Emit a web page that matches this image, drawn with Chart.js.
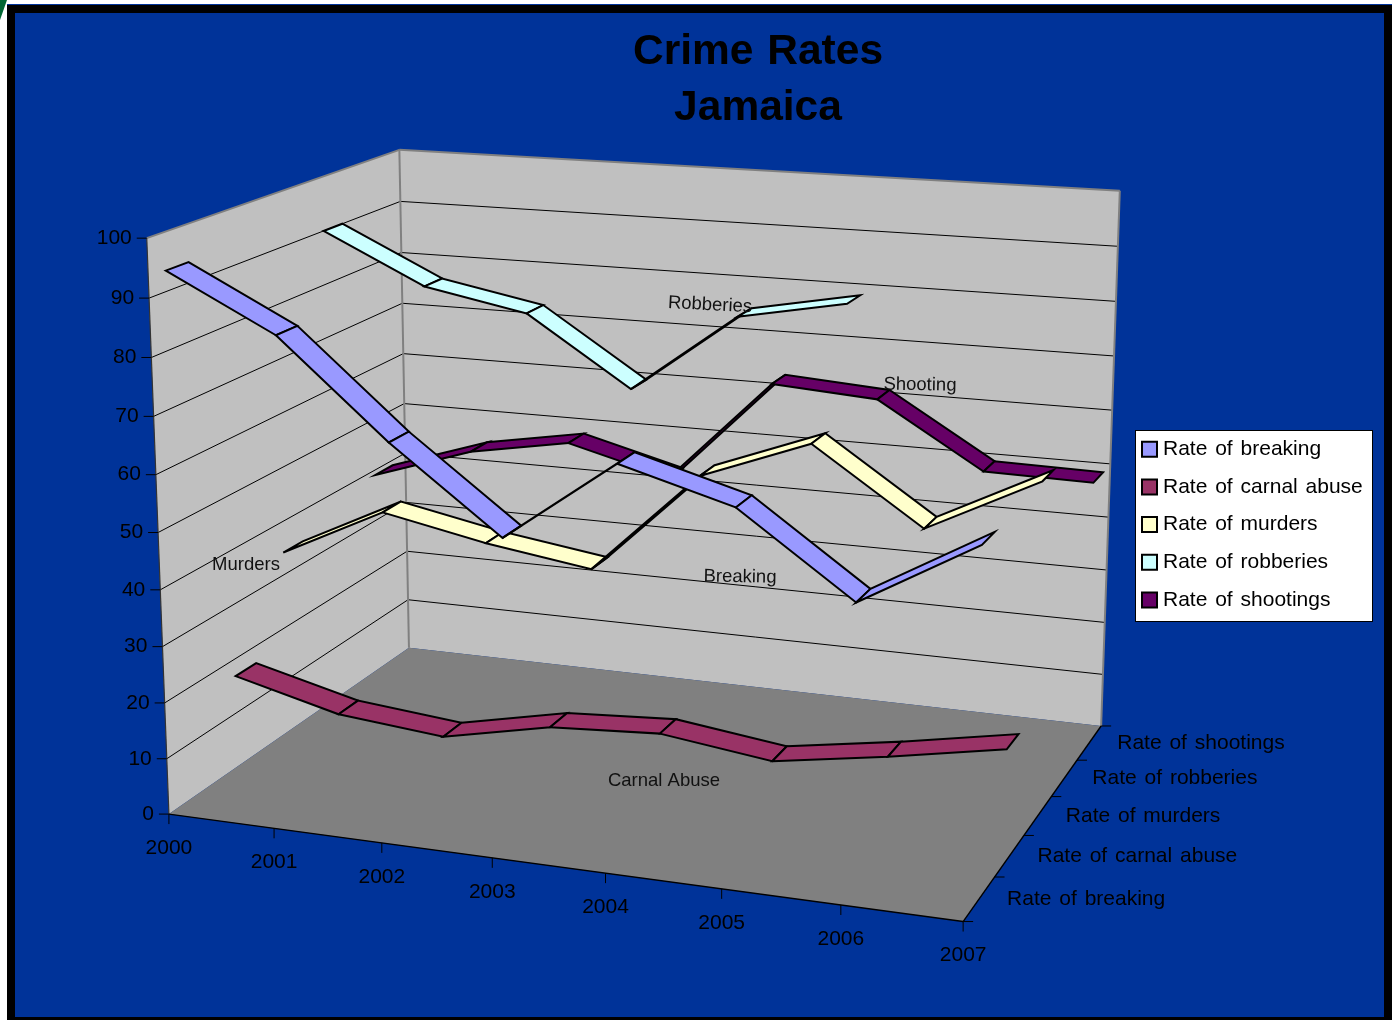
<!DOCTYPE html><html><head><meta charset="utf-8"><script src="https://cdn.jsdelivr.net/npm/chart.js@4/dist/chart.umd.js"></script></head><body style="margin:0;background:#fff"><canvas id="c" width="1394" height="1020" style="display:block"></canvas>
<script>
const years=['2000','2001','2002','2003','2004','2005','2006','2007'];
const valueTicks=[0,10,20,30,40,50,60,70,80,90,100];
const seriesNames=['Rate of breaking','Rate of carnal abuse','Rate of murders','Rate of robberies','Rate of shootings'];
const breaking=[93.5,84,67.5,53.2,67.4,62,48.4,59.7];
const carnalAbuse=[16.8,12,10.2,14.3,15.5,13,16.2,19.9];
const murders=[34.2,43.6,39.8,37,55.6,63,50,60];
const robberies=[90,81,77.4,65,79.6,83.3,null,null];
const shootings=[39,45.3,48.7,43.7,63.2,61.9,50.2,49.9];
const colors=['#9999FF','#993366','#FFFFCC','#CCFFFF','#660066'];
const seriesValues=[breaking,carnalAbuse,murders,robberies,shootings];
const notes=[['Robberies',710,305,3],['Shooting',920,385,1],['Breaking',740,577,1],['Murders',246,565,0],['Carnal Abuse',664,781,0]];

// Camera of the 3D box: (x, depth, value) in 0..1 to the page, fitted to its corners and axis ticks.
const calib=[[0,0,0,170,814],[1,0,0,962,922],[1,1,0,1100,726],[0,1,0,409,647],[0,0,1,147,238],[0,1,1,399,150],[1,1,1,1120,191],
[1,.2,0,995,876],[1,.4,0,1026,835],[1,.6,0,1052,797],[1,.8,0,1077,761],
[1/7,0,0,273,830],[2/7,0,0,382,844],[3/7,0,0,493,858],[4/7,0,0,605,872],[5/7,0,0,721,888],[6/7,0,0,840,905],[0,0,.5,158,532]];
function fitCamera(){const A=[],b=[];for(const [x,z,v,u,w] of calib){const U=u/1000,W=w/1000;
A.push([x,z,v,1,0,0,0,0,-U*x,-U*z,-U*v]);b.push(U);A.push([0,0,0,0,x,z,v,1,-W*x,-W*z,-W*v]);b.push(W);}
const n=11,N=[];for(let i=0;i<n;i++){N.push(new Array(n+1).fill(0));for(let j=0;j<n;j++)for(let k=0;k<A.length;k++)N[i][j]+=A[k][i]*A[k][j];for(let k=0;k<A.length;k++)N[i][n]+=A[k][i]*b[k];}
for(let i=0;i<n;i++){let p=i;for(let r=i;r<n;r++)if(Math.abs(N[r][i])>Math.abs(N[p][i]))p=r;[N[i],N[p]]=[N[p],N[i]];for(let r=0;r<n;r++)if(r!=i){const f=N[r][i]/N[i][i];for(let c=i;c<=n;c++)N[r][c]-=f*N[i][c];}}
return N.map((r,i)=>r[n]/r[i]);}
const P=fitCamera();
function proj(x,z,v){const d=P[8]*x+P[9]*z+P[10]*v+1;return [1000*(P[0]*x+P[1]*z+P[2]*v+P[3])/d,1000*(P[4]*x+P[5]*z+P[6]*v+P[7])/d];}
function poly(ctx,pts,fill,stroke,lw){ctx.beginPath();pts.forEach((p,i)=>i?ctx.lineTo(p[0],p[1]):ctx.moveTo(p[0],p[1]));ctx.closePath();if(fill){ctx.fillStyle=fill;ctx.fill();}if(stroke){ctx.strokeStyle=stroke;ctx.lineWidth=lw;ctx.stroke();}}
function seg(ctx,a,b,color,lw){ctx.beginPath();ctx.moveTo(a[0],a[1]);ctx.lineTo(b[0],b[1]);ctx.strokeStyle=color;ctx.lineWidth=lw;ctx.stroke();}
const FONT='"Liberation Sans", Arial, sans-serif';
const scene={id:'scene',
 afterLayout(chart){const t=chart.titleBlock;t.left=122;t.right=1394;t.top=24.5;t.bottom=137;
  const l=chart.legend;l.left=1146.5-l.options.labels.padding;l.right=1372;l.top=422;l.bottom=1020;},
 beforeDraw(chart){const c=chart.ctx;c.save();
  c.fillStyle='#fff';c.fillRect(0,0,1394,1020);
  c.fillStyle='#006633';c.beginPath();c.moveTo(0,0);c.lineTo(7,0);c.lineTo(0,20);c.fill();
  c.fillStyle='#003399';c.fillRect(7,4,1385,2);
  c.fillStyle='#000';c.fillRect(7,5,1385,1015);
  c.fillStyle='#003399';c.fillRect(15,13,1369,1004);
  poly(c,[proj(0,0,0),proj(0,1,0),proj(0,1,1),proj(0,0,1)],'#C0C0C0');
  poly(c,[proj(0,1,0),proj(1,1,0),proj(1,1,1),proj(0,1,1)],'#C0C0C0');
  poly(c,[proj(0,0,0),proj(1,0,0),proj(1,1,0),proj(0,1,0)],'#808080');
  c.lineCap='butt';
  for(const t of valueTicks){if(t===0||t===100)continue;const v=t/100;seg(c,proj(0,0,v),proj(0,1,v),'#000',1);seg(c,proj(0,1,v),proj(1,1,v),'#000',1);}
  seg(c,proj(0,0,1),proj(0,1,1),'#808080',2);seg(c,proj(0,1,1),proj(1,1,1),'#808080',2);seg(c,proj(1,1,1),proj(1,1,0),'#808080',2);seg(c,proj(0,1,1),proj(0,1,0),'#808080',2);
  seg(c,proj(0,0,1),proj(0,0,0),'#333',1.2);seg(c,proj(0,0,0),proj(1,0,0),'#000',1.4);seg(c,proj(1,0,0),proj(1,1,0),'#000',1.4);
  c.fillStyle='#000';c.font='21px '+FONT;c.wordSpacing='2px';c.textBaseline='middle';
  c.textAlign='right';for(const t of valueTicks){const p=proj(0,0,t/100);seg(c,[p[0]-10,p[1]],p,'#000',1);c.fillStyle='#000';c.fillText(String(t),p[0]-15,p[1]);}
  c.textAlign='center';years.forEach((y,i)=>{const p=proj(i/7,0,0);seg(c,p,[p[0],p[1]+10],'#000',1);c.fillStyle='#000';c.fillText(y,p[0],p[1]+34);});
  for(let k=0;k<=5;k++){const p=proj(1,k/5,0);seg(c,p,[p[0]+10,p[1]],'#000',1);}
  c.textAlign='left';seriesNames.forEach((s,k)=>{const p=proj(1,(k+.5)/5,0);c.fillStyle='#000';c.fillText(s,p[0]+28,p[1]);});
  c.fillStyle='#fff';c.strokeStyle='#000';c.lineWidth=1;c.fillRect(1135,430,237,191);c.strokeRect(1135.5,430.5,237,191);
  c.restore();c.wordSpacing='2px';},
 afterDatasetsDraw(chart){const c=chart.ctx,xs=chart.scales.x,ys=chart.scales.y;c.save();
  const nx=i=>(xs.getPixelForValue(i)-xs.left)/xs.width,ny=v=>(ys.bottom-ys.getPixelForValue(v))/(ys.bottom-ys.top);
  const W=.08;c.lineJoin='miter';
  [4,3,2,1,0].forEach(s=>{const d=chart.data.datasets[s].data,zf=(s+.5)/5-W/2,zb=(s+.5)/5+W/2;
   for(let i=0;i<d.length-1;i++){if(d[i]==null||d[i+1]==null)continue;
    const a=nx(i),b=nx(i+1),u=ny(d[i]),w=ny(d[i+1]);
    poly(c,[proj(a,zf,u),proj(b,zf,w),proj(b,zb,w),proj(a,zb,u)],chart.data.datasets[s].backgroundColor,'#000',2);}});
  c.fillStyle='#111';c.font='18.5px '+FONT;c.textAlign='center';c.textBaseline='middle';c.wordSpacing='0px';
  for(const [t,x,y,r] of notes){c.save();c.translate(x,y);c.rotate(r*Math.PI/180);c.fillText(t,0,0);c.restore();}
  c.restore();}};
new Chart(document.getElementById('c'),{type:'line',
 data:{labels:years,datasets:seriesNames.map((n,i)=>({label:n,data:seriesValues[i],backgroundColor:colors[i],borderColor:'#000',borderWidth:2,showLine:false,pointRadius:0,pointHoverRadius:0}))},
 options:{responsive:false,animation:false,events:[],
  scales:{x:{type:'category',display:false},y:{type:'linear',min:0,max:100,display:false}},
  plugins:{tooltip:{enabled:false},
   title:{display:true,text:['Crime Rates','Jamaica'],color:'#000',padding:0,font:{family:FONT,size:42.5,weight:'bold',lineHeight:1.32}},
   legend:{display:true,position:'right',align:'start',
    labels:{color:'#000',font:{family:FONT,size:21,lineHeight:1.2},boxWidth:6,boxHeight:15,padding:16.7,usePointStyle:true,
     generateLabels:ch=>ch.data.datasets.map((d,i)=>({text:d.label,fillStyle:d.backgroundColor,strokeStyle:'#000',lineWidth:2,pointStyle:'rect',datasetIndex:i,hidden:false}))}}}},
 plugins:[scene]});
</script></body></html>
